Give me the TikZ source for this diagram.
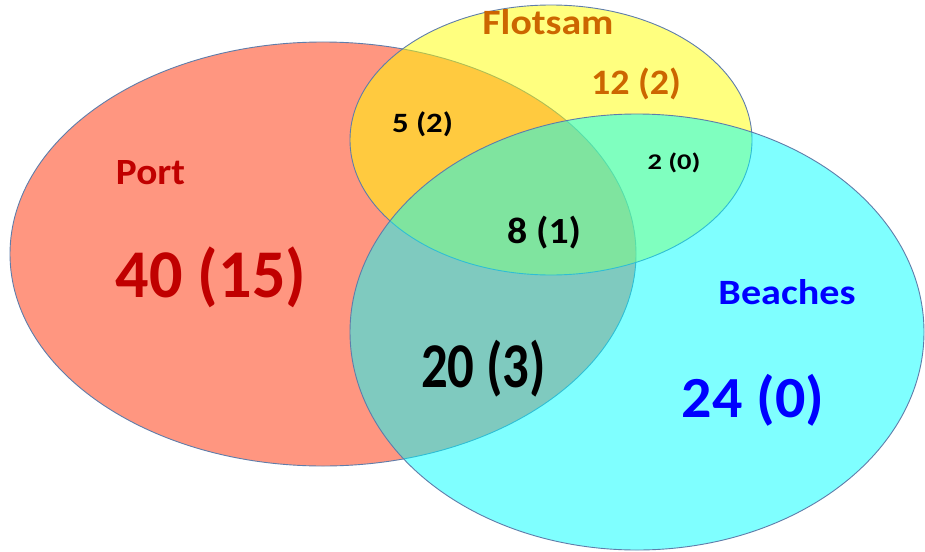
\documentclass[tikz,border=0pt]{standalone}
\usepackage{fontspec}
\setmainfont{Carlito}
\usetikzlibrary{shapes.geometric}
\definecolor{portfill}{RGB}{255,150,128}
\definecolor{flotfill}{RGB}{255,255,0}
\definecolor{beachfill}{RGB}{0,255,255}
\definecolor{rim}{RGB}{95,125,170}
\definecolor{orangetxt}{RGB}{204,102,0}
\definecolor{redtxt}{RGB}{192,0,0}
\definecolor{bluetxt}{RGB}{0,0,255}
\tikzset{
  setshape/.style={ellipse, draw=rim, line width=0.9pt, inner sep=0pt},
  lbl/.style={inner sep=0pt, font=\bfseries},
}
\begin{document}
\begin{tikzpicture}[x=1pt,y=-1pt]
\fill[white] (0,0) rectangle (925,551);
\useasboundingbox (0,0) rectangle (925,551);
% sets
\node[setshape, fill=portfill, minimum width=626pt, minimum height=424pt] (port) at (323,254) {};
\node[setshape, fill=flotfill, fill opacity=0.5, minimum width=402pt, minimum height=270pt] (flotsam) at (551,140) {};
\node[setshape, fill=beachfill, fill opacity=0.5, minimum width=574pt, minimum height=436pt] (beaches) at (637,332) {};
% labels
\node[lbl, text=orangetxt, anchor=base] (flotlbl) at (548,35) {\resizebox{131pt}{25pt}{Flotsam}};
\node[lbl, text=orangetxt] (flotonly) at (636,84) {\resizebox*{90pt}{32pt}{12 (2)}};
\node[lbl, text=black] (pf) at (422.5,124) {\resizebox*{61pt}{25pt}{5 (2)}};
\node[lbl, text=black] (fb) at (674,163) {\resizebox*{53pt}{20pt}{2 (0)}};
\node[lbl, text=black] (pfb) at (544,233) {\resizebox*{74pt}{33pt}{8 (1)}};
\node[lbl, text=redtxt, anchor=base] (portlbl) at (150.5,184) {\resizebox{69pt}{24pt}{Port}};
\node[lbl, text=redtxt] (portonly) at (211,277) {\resizebox*{190pt}{61pt}{40 (15)}};
\node[lbl, text=black] (pb) at (483.5,368.5) {\resizebox*{125pt}{57pt}{20 (3)}};
\node[lbl, text=bluetxt, anchor=base] (beachlbl) at (787,304) {\resizebox{137pt}{25pt}{Beaches}};
\node[lbl, text=bluetxt] (beachonly) at (753,400) {\resizebox*{142pt}{52pt}{24 (0)}};
\end{tikzpicture}
\end{document}
